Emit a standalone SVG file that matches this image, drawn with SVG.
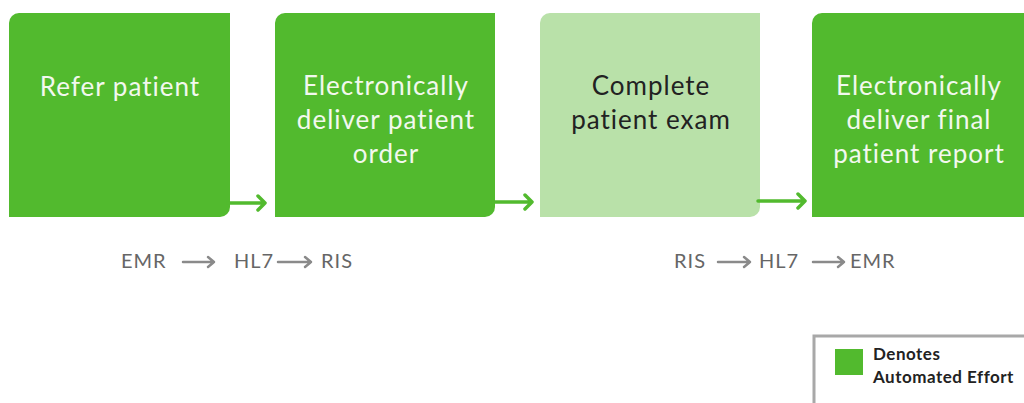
<svg xmlns="http://www.w3.org/2000/svg" width="1024" height="403" viewBox="0 0 1024 403">
<defs>
<style>
.box{fill:#52BA2E}
.boxl{fill:#B9E1A9}
.t{font-family:Lato,"Noto Sans",sans-serif;font-size:26px;letter-spacing:1px;text-anchor:middle;fill:#F2F8EE}
.td{font-family:Lato,"Noto Sans",sans-serif;font-size:26px;letter-spacing:1px;text-anchor:middle;fill:#222}
.conn{fill:none;stroke:#52BA2E;stroke-width:3.5;stroke-linecap:round;stroke-linejoin:round}
.g{fill:none;stroke:#8A8A8A;stroke-width:2.5;stroke-linecap:round;stroke-linejoin:round}
.lb{font-family:Lato,"Noto Sans",sans-serif;font-size:20px;letter-spacing:1px;fill:#666}
.lg{font-family:Lato,"Noto Sans",sans-serif;font-size:17px;letter-spacing:0.5px;font-weight:bold;fill:#222}
</style>
</defs>
<rect width="1024" height="403" fill="#fff"/>
<g id="n1">
<path class="box" d="M19,13 H230 V207 A10,10 0 0 1 220,217 H9 V23 A10,10 0 0 1 19,13 Z"/>
<text class="t" x="120" y="96">Refer patient</text>
</g>
<g id="n2">
<path class="box" d="M285,13 H495 V207 A10,10 0 0 1 485,217 H275 V23 A10,10 0 0 1 285,13 Z"/>
<text class="t" x="386" y="95">Electronically</text>
<text class="t" x="386" y="129">deliver patient</text>
<text class="t" x="386" y="163">order</text>
</g>
<g id="n3">
<path class="boxl" d="M550,13 H760 V207 A10,10 0 0 1 750,217 H540 V23 A10,10 0 0 1 550,13 Z"/>
<text class="td" x="651" y="95">Complete</text>
<text class="td" x="651" y="129">patient exam</text>
</g>
<g id="n4">
<path class="box" d="M822,13 H1024 V217 H812 V23 A10,10 0 0 1 822,13 Z"/>
<text class="t" x="919" y="95">Electronically</text>
<text class="t" x="919" y="129">deliver final</text>
<text class="t" x="919" y="163">patient report</text>
</g>
<g id="connectors">
<path class="conn" d="M228,203 H265 M258,196 L265,203 L258,210"/>
<path class="conn" d="M493,202 H532 M525,195 L532,202 L525,209"/>
<path class="conn" d="M758,201 H805 M798,194 L805,201 L798,208"/>
</g>
<g id="flow1">
<text class="lb" x="121" y="268">EMR</text>
<path class="g" d="M183,262 H214 M208,257 L214,262 L208,267"/>
<text class="lb" x="234" y="268">HL7</text>
<path class="g" d="M278,262 H311 M305,257 L311,262 L305,267"/>
<text class="lb" x="321" y="268">RIS</text>
</g>
<g id="flow2">
<text class="lb" x="674" y="268">RIS</text>
<path class="g" d="M718,262 H750 M744,257 L750,262 L744,267"/>
<text class="lb" x="759" y="268">HL7</text>
<path class="g" d="M813,262 H844 M838,257 L844,262 L838,267"/>
<text class="lb" x="850" y="268">EMR</text>
</g>
<g id="legend">
<rect x="814" y="336" width="214" height="70" fill="#fff" stroke="#A8A8A8" stroke-width="3"/>
<rect x="835" y="349" width="28" height="26" fill="#52BA2E"/>
<text class="lg" x="873" y="360">Denotes</text>
<text class="lg" x="873" y="383">Automated Effort</text>
</g>
</svg>
